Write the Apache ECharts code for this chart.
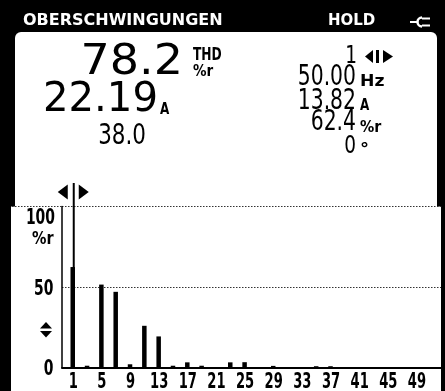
<!DOCTYPE html>
<html>
<head>
<meta charset="utf-8">
<script src="https://cdn.jsdelivr.net/npm/echarts@6/dist/echarts.min.js"></script>
<style>
html,body{margin:0;padding:0;background:#000;}
#c{width:445px;height:391px;}
</style>
</head>
<body>
<div id="c"></div>
<script>
// Harmonic order (0 = DC) and measured level of each harmonic in %r
const harmonics = ['0','1','2','3','4','5','6','7','8','9','10','11','12','13','14','15','16','17','18','19','20',
  '21','22','23','24','25','26','27','28','29','30','31','32','33','34','35','36','37','38','39','40',
  '41','42','43','44','45','46','47','48','49','50','51','52'];
const levels = [0, 62.4, 0, 1.1, 0, 51.5, 0, 47.0, 0, 2.0, 0, 25.9, 0, 19.3, 0, 1.1, 0, 3.2, 0, 1.1, 0,
  0, 0, 3.2, 0, 3.3, 0, 0, 0, 1.0, 0, 0, 0, 0, 0, 0.8, 0, 0.8, 0, 0, 0,
  0, 0, 0, 0, 0, 0, 0, 0, 0, 0, 0, 0];
const xTickLabels = ['1','5','9','13','17','21','25','29','33','37','41','45','49'];
const yTickLabels = [0, 50, 100];

// Readings shown in the upper panel
const thdValue = '78.2';
const rmsValue = '22.19';
const crestValue = '38.0';
const cursorHarmonic = '1';
const frequency = '50.00';
const cursorCurrent = '13.82';
const cursorPercent = '62.4';
const cursorPhase = '0';

const FONT = "'DejaVu Sans', sans-serif";
const MID = 0.74;   // horizontal squeeze of the meter digits

const chart = echarts.init(document.getElementById('c'), null, {renderer: 'canvas'});

function txt(text, x, y, font, align, sx, fill) {
  return {
    type: 'text', z: 100, x: x, y: y, scaleX: sx || 1,
    style: {text: text, x: 0, y: 0, font: font, align: align || 'left', verticalAlign: 'middle', fill: fill || '#000'}
  };
}

chart.setOption({
  backgroundColor: '#000',
  animation: false,
  grid: {left: 62, right: 3.5, top: 206.5, bottom: 23.5, containLabel: false},
  xAxis: {
    type: 'category',
    data: harmonics,
    boundaryGap: true,
    axisLine: {show: true, lineStyle: {color: '#000', width: 2}},
    axisTick: {show: false},
    splitLine: {show: false},
    axisLabel: {show: false}
  },
  yAxis: {
    type: 'value',
    min: 0, max: 100, interval: 50,
    axisLine: {show: true, lineStyle: {color: '#000', width: 1.5}},
    axisTick: {show: false},
    splitLine: {show: true, lineStyle: {color: '#333', width: 1.2, type: [1.5, 1.5]}},
    axisLabel: {show: false}
  },
  series: [{
    type: 'bar',
    data: levels,
    barWidth: 4.5,
    itemStyle: {color: '#000'},
    z: 5
  }]
});

// Pixel positions taken from the axes
const cx = chart.convertToPixel({xAxisIndex: 0}, cursorHarmonic);
const yTop = chart.convertToPixel({yAxisIndex: 0}, 100);
const yZero = chart.convertToPixel({yAxisIndex: 0}, 0);

const g = [];
// white panels on the black housing
g.push({type: 'rect', z: -10, shape: {x: 15, y: 32, width: 422, height: yTop - 32 + 1, r: [6, 6, 0, 0]}, style: {fill: '#fff'}});
g.push({type: 'rect', z: -10, shape: {x: 11, y: yTop, width: 430, height: 391 - yTop}, style: {fill: '#fff'}});
// dotted separator continuing the 100 % line to the left edge
g.push({type: 'line', z: 1, shape: {x1: 12, y1: yTop, x2: 62, y2: yTop}, style: {stroke: '#333', lineWidth: 1.2, lineDash: [1.5, 1.5]}});

// axis tick labels
xTickLabels.forEach(function (t) {
  const px = chart.convertToPixel({xAxisIndex: 0}, t);
  g.push(txt(t, px + 0.5, 382.5, 'bold 20.5px ' + FONT, 'center', 0.64));
});
yTickLabels.forEach(function (v) {
  const py = chart.convertToPixel({yAxisIndex: 0}, v);
  const shift = v === 100 ? 12.5 : 2.5;
  g.push(txt(String(v), v === 100 ? 55 : 53.5, py + shift, 'bold 20.5px ' + FONT, 'right', 0.68));
});
g.push(txt('%r', 53.5, 239, 'bold 18px ' + FONT, 'right', 0.8));

// title bar
g.push(txt('OBERSCHWINGUNGEN', 23, 21, 'bold 16px ' + FONT, 'left', 1, '#fff'));
g.push(txt('HOLD', 328, 21, 'bold 15px ' + FONT, 'left', 1, '#fff'));
// mains plug symbol
g.push({type: 'line', z: 100, shape: {x1: 410, y1: 22, x2: 417, y2: 22}, style: {stroke: '#fff', lineWidth: 2}});
g.push({type: 'arc', z: 100, shape: {cx: 422, cy: 22, r: 4.5, startAngle: Math.PI / 2, endAngle: Math.PI * 1.5, clockwise: true}, style: {stroke: '#fff', lineWidth: 2.5, fill: null}});
g.push({type: 'line', z: 100, shape: {x1: 422, y1: 18.5, x2: 430, y2: 18.5}, style: {stroke: '#fff', lineWidth: 2}});
g.push({type: 'line', z: 100, shape: {x1: 422, y1: 25.5, x2: 430, y2: 25.5}, style: {stroke: '#fff', lineWidth: 2}});

// left readings
g.push(txt(thdValue, 183, 62.5, '43px ' + FONT, 'right', 1.07));
g.push(txt('THD', 193, 55, 'bold 17.5px ' + FONT, 'left', 0.7));
g.push(txt('%r', 193, 72.5, 'bold 15px ' + FONT, 'left', 0.9));
g.push(txt(rmsValue, 158, 100, '41px ' + FONT, 'right', 0.98));
g.push(txt('A', 160, 110, 'bold 15px ' + FONT, 'left', 0.8));
g.push(txt(crestValue, 146, 136.5, '29px ' + FONT, 'right', MID));

// right readings (cursor)
g.push(txt(cursorHarmonic, 357, 56.5, '25px ' + FONT, 'right', MID));
g.push({type: 'polygon', z: 100, shape: {points: [[365, 56.5], [373, 50], [373, 63]]}, style: {fill: '#000'}});
g.push({type: 'rect', z: 100, shape: {x: 376, y: 50, width: 3, height: 13}, style: {fill: '#000'}});
g.push({type: 'polygon', z: 100, shape: {points: [[393, 56.5], [383, 50], [383, 63]]}, style: {fill: '#000'}});
g.push(txt(frequency, 356, 78, '27.5px ' + FONT, 'right', MID));
g.push(txt('Hz', 360, 82.5, 'bold 15px ' + FONT, 'left', 1.15));
g.push(txt(cursorCurrent, 356, 102, '27.5px ' + FONT, 'right', MID));
g.push(txt('A', 360, 106, 'bold 15px ' + FONT, 'left', 0.8));
g.push(txt(cursorPercent, 356, 123, '27.5px ' + FONT, 'right', MID));
g.push(txt('%r', 360, 128, 'bold 15px ' + FONT, 'left', 0.95));
g.push(txt(cursorPhase, 356, 146, '25px ' + FONT, 'right', MID));
g.push(txt('°', 360, 150, 'bold 18px ' + FONT, 'left'));

// cursor marker over the selected harmonic
g.push({type: 'line', z: 50, shape: {x1: cx + 1, y1: 183, x2: cx + 1, y2: yZero}, style: {stroke: '#000', lineWidth: 2}});
g.push({type: 'polygon', z: 100, shape: {points: [[cx - 15, 192], [cx - 5, 184.5], [cx - 5, 199.5]]}, style: {fill: '#000'}});
g.push({type: 'polygon', z: 100, shape: {points: [[cx + 16, 192], [cx + 6, 184.5], [cx + 6, 199.5]]}, style: {fill: '#000'}});

// zoom symbol left of the graph
g.push({type: 'polygon', z: 100, shape: {points: [[40, 328.5], [52, 328.5], [46, 322]]}, style: {fill: '#000'}});
g.push({type: 'polygon', z: 100, shape: {points: [[40, 331], [52, 331], [46, 337.5]]}, style: {fill: '#000'}});
// right frame edge of the graph area
g.push({type: 'rect', z: 100, shape: {x: 441, y: yTop, width: 3, height: 391 - yTop}, style: {fill: '#000'}});

chart.setOption({graphic: g});
</script>
</body>
</html>
